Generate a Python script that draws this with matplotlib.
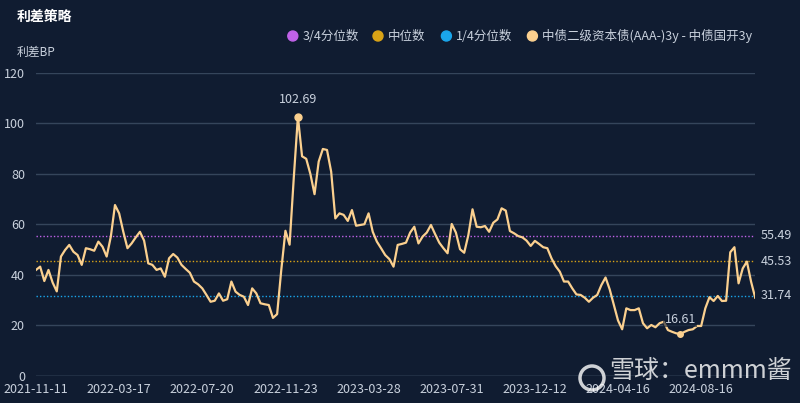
import numpy as np
import matplotlib.pyplot as plt

plt.rcParams['font.family'] = ['Noto Sans CJK SC', 'DejaVu Sans']

# spread series (bp), sampled evenly along the category axis
spread = [42.0, 43.3, 37.6, 42.0, 37.0, 33.5, 47.3, 49.9, 51.9, 49.2,
          47.9, 44.0, 50.6, 50.2, 49.6, 53.2, 51.2, 47.3, 55.2, 67.7,
          64.4, 57.1, 50.6, 52.5, 54.9, 57.1, 53.6, 44.6, 44.0, 42.0,
          42.6, 39.3, 46.6, 48.3, 46.9, 44.0, 42.4, 40.9, 37.4, 36.3,
          34.7, 32.1, 29.4, 29.8, 32.7, 29.8, 30.4, 37.4, 33.4, 32.1,
          31.4, 28.1, 34.7, 32.7, 28.8, 28.4, 28.1, 23.0, 24.5, 42.0,
          57.5, 52.0, 78.3, 102.69, 87.0, 86.0, 80.0, 72.0, 84.9, 89.9,
          89.5, 80.9, 62.4, 64.4, 63.8, 61.4, 65.7, 59.5, 59.8, 60.1,
          64.4, 57.1, 53.2, 50.6, 47.9, 46.3, 43.3, 51.9, 52.3, 52.8,
          56.8, 59.1, 52.5, 55.2, 56.8, 59.8, 56.2, 52.8, 50.6, 48.6,
          60.2, 56.8, 50.2, 48.8, 55.8, 66.0, 59.1, 58.9, 59.4, 57.1,
          60.7, 62.0, 66.4, 65.5, 57.4, 56.5, 55.4, 54.9, 53.6, 51.5,
          53.5, 52.3, 51.0, 50.6, 46.6, 43.5, 41.3, 37.4, 37.4, 34.7,
          32.3, 32.1, 31.0, 29.4, 31.0, 32.1, 36.0, 39.0, 34.3, 28.1,
          22.0, 18.5, 26.8, 26.1, 26.1, 26.8, 20.9, 18.9, 20.2, 19.3,
          20.9, 21.5, 18.2, 17.5, 16.9, 16.61, 17.5, 18.2, 18.5, 19.8,
          19.8, 26.8, 31.2, 29.7, 31.7, 29.7, 29.8, 49.0, 51.0, 36.7,
          42.6, 45.3, 37.4, 31.0]

q75 = 55.49
q50 = 45.53
q25 = 31.74

date_labels = ['2021-11-11', '2022-03-17', '2022-07-20', '2022-11-23', '2023-03-28',
               '2023-07-31', '2023-12-12', '2024-04-16', '2024-08-16']
label_step = 20

bg = '#101c31'
txt = '#c9d1dd'
c_q75 = '#c062e8'
c_q50 = '#d9a316'
c_q25 = '#1aa6ec'
c_line = '#fbd08f'

fig = plt.figure(figsize=(8, 4.03), dpi=100, facecolor=bg)
ax = fig.add_axes([0.045, 0.067, 0.899, 0.752], facecolor=bg)

x = np.arange(len(spread))
ax.plot(x, spread, color=c_line, lw=1.6, zorder=4, label='中债二级资本债(AAA-)3y - 中债国开3y')
ax.axhline(q75, color=c_q75, lw=1, ls=(0, (1, 1.5)), zorder=3)
ax.axhline(q50, color=c_q50, lw=1, ls=(0, (1, 1.5)), zorder=3)
ax.axhline(q25, color=c_q25, lw=1, ls=(0, (1, 1.5)), zorder=3)

ax.set_xlim(0, len(spread) - 1)
ax.set_ylim(0, 120)
ax.set_yticks(range(0, 121, 20))
ax.set_xticks(range(0, label_step * len(date_labels), label_step))
ax.set_xticklabels(date_labels)
ax.grid(axis='y', color='#35455b', lw=1)
ax.set_axisbelow(True)
for s in ax.spines.values():
    s.set_visible(False)
ax.axhline(0, color='#4a5a70', lw=1, zorder=2)
ax.tick_params(axis='both', length=0, colors=txt, labelsize=9)
ax.tick_params(axis='y', pad=8)
ax.tick_params(axis='x', pad=5)

# max / min markers
imax = int(np.argmax(spread))
imin = int(np.argmin(spread))
ax.plot(imax, spread[imax], 'o', color=c_line, ms=5, zorder=5)
ax.annotate(f'{spread[imax]:.2f}', (imax, spread[imax]), xytext=(0, 8), textcoords='offset points',
            ha='center', va='bottom', color=txt, fontsize=9)
ax.plot(imin, spread[imin], 'o', color=c_line, ms=4, zorder=5)
ax.annotate(f'{spread[imin]:.2f}', (imin, spread[imin]), xytext=(0, 6), textcoords='offset points',
            ha='center', va='bottom', color=txt, fontsize=9, zorder=6,
            bbox=dict(boxstyle='square,pad=0.1', fc=bg, ec='none', alpha=0.6))

# quantile labels on the right
for q in (q75, q50, q25):
    ax.text(1.008, q, f'{q:.2f}', transform=ax.get_yaxis_transform(), ha='left', va='center',
            color=txt, fontsize=9)

# titles
fig.text(0.021, 0.957, '利差策略', color='white', fontsize=10, fontweight='bold', va='center')
fig.text(0.021, 0.871, '利差BP', color=txt, fontsize=8.5, va='center')

# legend
legend_items = [('3/4分位数', c_q75, 0.366), ('中位数', c_q50, 0.4725),
                ('1/4分位数', c_q25, 0.558), ('中债二级资本债(AAA-)3y - 中债国开3y', c_line, 0.6655)]
for name, col, xf in legend_items:
    fig.patches.append(plt.Circle((xf * 800, 403 - 36), 5, transform=None, color=col))
    fig.text(xf + 0.012, 1 - 36 / 403, name, color=txt, fontsize=9, va='center')

# watermark
fig.text(0.762, 0.08, '雪球：emmm酱', color='white', alpha=0.8, fontsize=18, va='center')
fig.patches.append(plt.Circle((592, 403 - 378), 12, transform=None, fill=False,
                              ec='white', lw=2.5, alpha=0.8))

fig.savefig('out.png', dpi=100, facecolor=bg)
